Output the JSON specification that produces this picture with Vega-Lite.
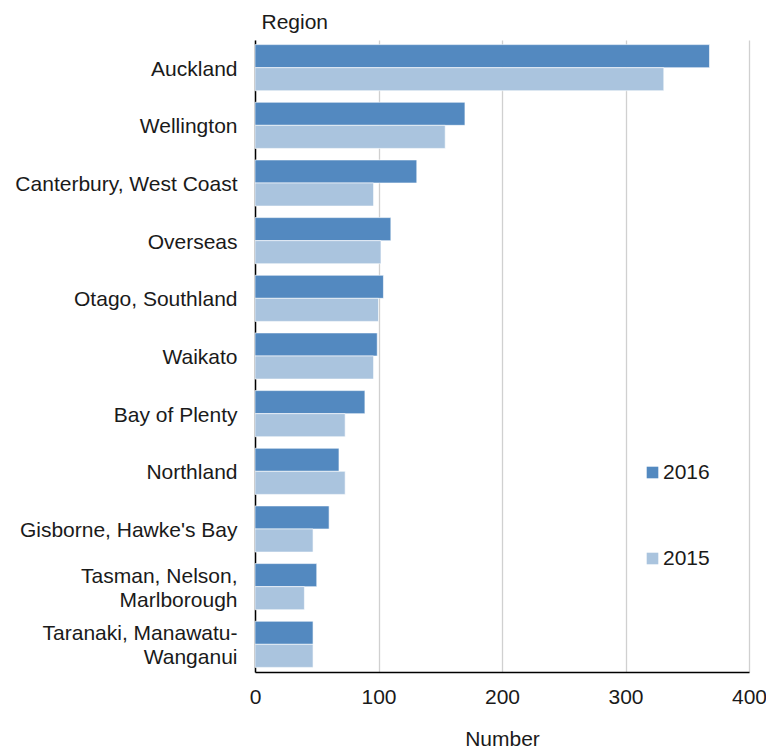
{
  "$schema": "https://vega.github.io/schema/vega-lite/v6.json",
  "autosize": "none",
  "width": 494,
  "height": 632,
  "padding": {"left": 255, "top": 40, "right": 17, "bottom": 77},
  "background": "white",
  "config": {
    "font": "Liberation Sans",
    "view": {"stroke": null}
  },
  "data": {
    "values": [
      {"region": "Auckland", "year": "2016", "number": 368},
      {"region": "Auckland", "year": "2015", "number": 331},
      {"region": "Wellington", "year": "2016", "number": 170},
      {"region": "Wellington", "year": "2015", "number": 154},
      {"region": "Canterbury, West Coast", "year": "2016", "number": 131},
      {"region": "Canterbury, West Coast", "year": "2015", "number": 96},
      {"region": "Overseas", "year": "2016", "number": 110},
      {"region": "Overseas", "year": "2015", "number": 102},
      {"region": "Otago, Southland", "year": "2016", "number": 104},
      {"region": "Otago, Southland", "year": "2015", "number": 100},
      {"region": "Waikato", "year": "2016", "number": 99},
      {"region": "Waikato", "year": "2015", "number": 96},
      {"region": "Bay of Plenty", "year": "2016", "number": 89},
      {"region": "Bay of Plenty", "year": "2015", "number": 73},
      {"region": "Northland", "year": "2016", "number": 68},
      {"region": "Northland", "year": "2015", "number": 73},
      {"region": "Gisborne, Hawke's Bay", "year": "2016", "number": 60},
      {"region": "Gisborne, Hawke's Bay", "year": "2015", "number": 47},
      {"region": "Tasman, Nelson, Marlborough", "year": "2016", "number": 50},
      {"region": "Tasman, Nelson, Marlborough", "year": "2015", "number": 40},
      {"region": "Taranaki, Manawatu-Wanganui", "year": "2016", "number": 47},
      {"region": "Taranaki, Manawatu-Wanganui", "year": "2015", "number": 47}
    ]
  },
  "mark": {"type": "bar", "stroke": "white", "strokeWidth": 0.6},
  "encoding": {
    "y": {
      "field": "region",
      "type": "nominal",
      "sort": null,
      "scale": {"paddingInner": 0.2, "paddingOuter": 0.08},
      "axis": {
        "title": "Region",
        "titleAngle": 0,
        "titleX": 6,
        "titleY": -12,
        "titleAlign": "left",
        "titleBaseline": "alphabetic",
        "titleFontSize": 21,
        "titleFontWeight": "normal",
        "titleColor": "#1a1a1a",
        "labelFontSize": 21,
        "labelColor": "#1a1a1a",
        "labelPadding": 18,
        "labelLineHeight": 24,
        "labelLimit": 300,
        "labelOffset": {"condition": {"test": "indexof(datum.value, 'Tasman') >= 0 || indexof(datum.value, 'Taranaki') >= 0", "value": -10}, "value": 2},
        "labelExpr": "datum.value == 'Tasman, Nelson, Marlborough' ? ['Tasman, Nelson,', 'Marlborough\u00a0\u00a0\u00a0\u00a0'] : datum.value == 'Taranaki, Manawatu-Wanganui' ? ['Taranaki, Manawatu-', 'Wanganui\u00a0\u00a0\u00a0\u00a0\u00a0\u00a0\u00a0\u00a0\u00a0'] : datum.value",
        "ticks": false,
        "domainColor": "#000000",
        "domainWidth": 1.5
      }
    },
    "yOffset": {
      "field": "year",
      "type": "nominal",
      "sort": ["2016", "2015"],
      "scale": {"paddingInner": 0, "paddingOuter": 0}
    },
    "x": {
      "field": "number",
      "type": "quantitative",
      "scale": {"domain": [0, 400]},
      "axis": {
        "title": "Number",
        "titleFontSize": 21,
        "titleFontWeight": "normal",
        "titleColor": "#1a1a1a",
        "titlePadding": 21,
        "values": [0, 100, 200, 300, 400],
        "labelFontSize": 21,
        "labelColor": "#1a1a1a",
        "labelPadding": 14,
        "labelFlush": false,
        "ticks": false,
        "grid": true,
        "gridColor": "#d0d0d0",
        "gridWidth": 1.3,
        "domainColor": "#000000",
        "domainWidth": 1.5
      }
    },
    "color": {
      "field": "year",
      "type": "nominal",
      "sort": ["2016", "2015"],
      "scale": {"domain": ["2016", "2015"], "range": ["#5389c0", "#aac4de"]},
      "legend": {
        "title": null,
        "orient": "none",
        "legendX": 387,
        "legendY": 422,
        "symbolType": "square",
        "symbolSize": 135,
        "symbolStrokeWidth": 0,
        "labelFontSize": 21,
        "labelColor": "#1a1a1a",
        "labelOffset": 0,
        "rowPadding": 64
      }
    }
  }
}
